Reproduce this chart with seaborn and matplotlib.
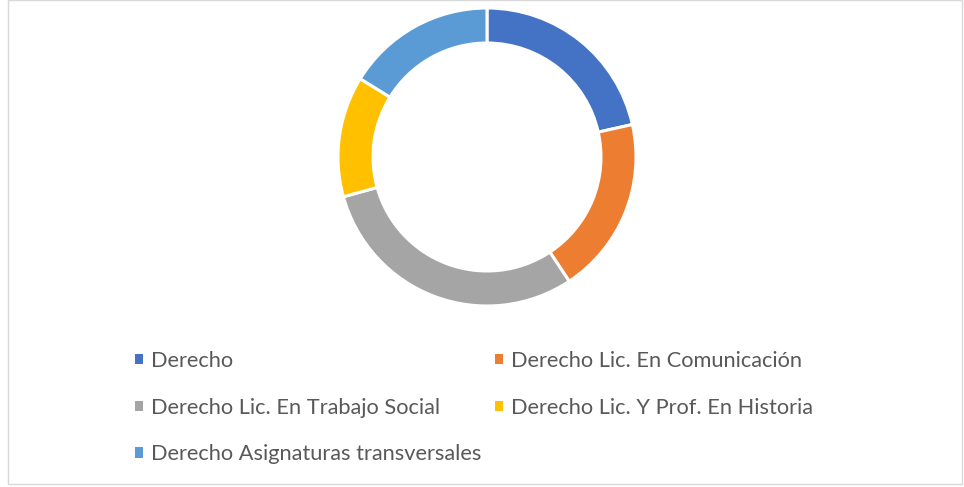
import matplotlib
matplotlib.use("Agg")
import matplotlib.pyplot as plt
from matplotlib.patches import Patch, Rectangle
import seaborn as sns

# Data (share of the ring, clockwise from 12 o'clock)
categories = [
    "Derecho",
    "Derecho Lic. En Comunicación",
    "Derecho Lic. En Trabajo Social",
    "Derecho Lic. Y Prof. En Historia",
    "Derecho Asignaturas transversales",
]
shares = [21.5, 19.2, 30.0, 13.1, 16.2]
colors = ["#4472C4", "#ED7D31", "#A5A5A5", "#FFC000", "#5B9BD5"]

sns.set_theme(style="white")
plt.rcParams["font.family"] = ["Lato", "DejaVu Sans"]

W, H = 964, 487
fig = plt.figure(figsize=(W / 100, H / 100), dpi=100)

# chart area border
fig.patches.append(Rectangle((8 / W, 3 / H), 954 / W, 484 / H, transform=fig.transFigure,
                             fill=False, edgecolor="#D9D9D9", linewidth=1))

cx, cy, r = 487, 157, 149
ax = fig.add_axes([(cx - r) / W, 1 - (cy + r) / H, 2 * r / W, 2 * r / H])
palette = sns.color_palette(colors)
wedges, _ = ax.pie(shares, colors=palette, startangle=90, counterclock=False,
                   wedgeprops=dict(width=0.235, edgecolor="white", linewidth=2.2))
ax.set_xlim(-1, 1)
ax.set_ylim(-1, 1)
ax.set_aspect("equal")
ax.axis("off")

handles = [Patch(facecolor=c, edgecolor="none") for c in palette]
order = [0, 2, 4, 1, 3]
fig.legend([handles[i] for i in order], [categories[i] for i in order],
           ncol=2, loc="upper left", bbox_to_anchor=(126 / W, 1 - 342 / H),
           frameon=False, fontsize=15.7, labelcolor="#595959",
           handlelength=0.36, handleheight=0.36, handletextpad=0.4,
           labelspacing=1.23, columnspacing=0.6, borderaxespad=0)

fig.savefig("out.png", dpi=100)
